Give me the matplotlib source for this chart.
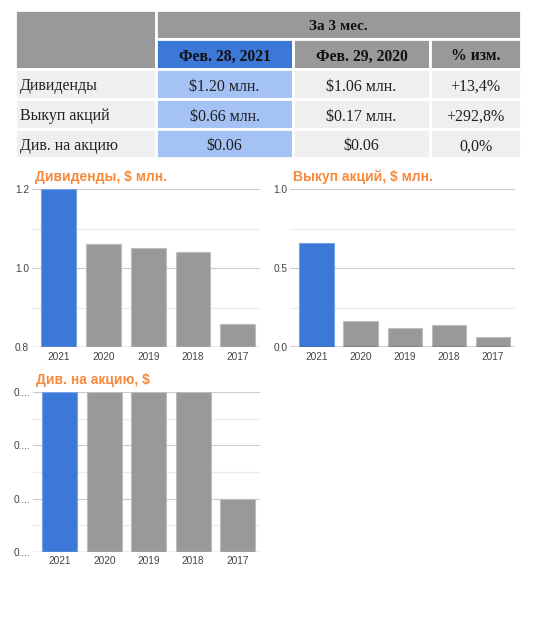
import matplotlib
matplotlib.use("Agg")
import matplotlib.pyplot as plt
from matplotlib.patches import Rectangle

# --- data ---
years = ['2021', '2020', '2019', '2018', '2017']
dividends = [1.20, 1.06, 1.05, 1.04, 0.86]
buybacks = [0.66, 0.17, 0.12, 0.14, 0.065]
div_per_share = [0.06, 0.06, 0.06, 0.06, 0.05]

period_title = 'За 3 мес.'
col_heads = ['Фев. 28, 2021', 'Фев. 29, 2020', '% изм.']
row_names = ['Дивиденды', 'Выкуп акций', 'Див. на акцию']
cur_vals = ['$1.20 млн.', '$0.66 млн.', '$0.06']
prev_vals = ['$1.06 млн.', '$0.17 млн.', '$0.06']
changes = ['+13,4%', '+292,8%', '0,0%']

BLUE = '#3c78d8'
GRAY = '#999999'
LBLUE = '#a4c2f4'
LGRAY = '#efefef'
ORANGE = '#f6893b'
W, H = 535, 620

fig = plt.figure(figsize=(W / 100, H / 100), dpi=100)
fig.patch.set_facecolor('white')

# table drawn in pixel coordinates
tab = fig.add_axes([0, 0, 1, 1])
tab.set_xlim(0, W)
tab.set_ylim(H, 0)
tab.axis('off')

cols = [(15, 156), (156, 293), (293, 430), (430, 521)]
hrows = [(10, 38.5), (38.5, 68.5)]
rows = [(68.5, 98.5), (98.5, 128.5), (128.5, 158)]


def cell(x0, x1, y0, y1, color):
    tab.add_patch(Rectangle((x0, y0), x1 - x0, y1 - y0, facecolor=color,
                            edgecolor='white', linewidth=2))


serif = 'Liberation Serif'
cell(cols[0][0], cols[0][1], hrows[0][0], hrows[1][1], GRAY)
cell(cols[1][0], cols[3][1], hrows[0][0], hrows[0][1], GRAY)
tab.text((cols[1][0] + cols[3][1]) / 2, sum(hrows[0]) / 2 + 1, period_title,
         ha='center', va='center_baseline', family=serif, fontsize=11,
         fontweight='bold', color='#111111')
for i, head in enumerate(col_heads):
    c = cols[i + 1]
    cell(c[0], c[1], hrows[1][0], hrows[1][1], BLUE if i == 0 else GRAY)
    tab.text(sum(c) / 2, sum(hrows[1]) / 2 + 1, head, ha='center',
             va='center_baseline', family=serif, fontsize=11.3,
             fontweight='bold', color='#111111')

for r, (y0, y1) in enumerate(rows):
    cell(cols[0][0], cols[0][1], y0, y1, LGRAY)
    tab.text(cols[0][0] + 5, (y0 + y1) / 2 + 1, row_names[r], ha='left',
             va='center_baseline', family=serif, fontsize=11.5,
             color='#222222')
    vals = [cur_vals[r], prev_vals[r], changes[r]]
    for i, v in enumerate(vals):
        c = cols[i + 1]
        cell(c[0], c[1], y0, y1, LBLUE if i == 0 else LGRAY)
        tab.text(sum(c) / 2, (y0 + y1) / 2 + 1, v, ha='center',
                 va='center_baseline', family=serif, fontsize=11.5,
                 color='#222222')


def bar_chart(box, values, title, ylim, major, minor, ticklabels,
              base_color):
    l, t, r, b = box
    ax = fig.add_axes([l / W, 1 - b / H, (r - l) / W, (b - t) / H])
    x = range(len(values))
    colors = [BLUE] + [GRAY] * (len(values) - 1)
    edges = ['#78a2e6'] + ['#bdbdbd'] * (len(values) - 1)
    ax.bar(x, values, width=0.78, color=colors, edgecolor=edges,
           linewidth=0.8, zorder=3)
    ax.set_xlim(-0.6, len(values) - 0.5)
    ax.set_ylim(*ylim)
    for v in minor:
        ax.axhline(v, color='#ebebeb', linewidth=0.8, zorder=1)
    for v in major:
        ax.axhline(v, color='#cccccc', linewidth=0.8, zorder=1)
    ax.axhline(ylim[0], color=base_color, linewidth=1.0, zorder=4)
    ax.set_yticks(major)
    ax.set_yticklabels(ticklabels)
    ax.set_xticks(list(x))
    ax.set_xticklabels(years)
    for s in ax.spines.values():
        s.set_visible(False)
    ax.tick_params(length=0, labelsize=7.3, colors='#444444', pad=2)
    ax.tick_params(axis='x', pad=3)
    for lab in ax.get_xticklabels() + ax.get_yticklabels():
        lab.set_family('Liberation Sans')
    fig.text((l + 3) / W, 1 - (t - 12) / H, title, ha='left', va='center',
             color=ORANGE, fontsize=10, fontweight='bold',
             family='Liberation Sans')
    return ax


bar_chart((32, 189, 260, 347.5), dividends, 'Дивиденды, $ млн.',
          (0.8, 1.2), [0.8, 1.0, 1.2], [0.9, 1.1],
          ['0.8', '1.0', '1.2'], '#bbbbbb')
bar_chart((290, 189, 515, 347.5), buybacks, 'Выкуп акций, $ млн.',
          (0.0, 1.0), [0.0, 0.5, 1.0], [0.25, 0.75],
          ['0.0', '0.5', '1.0'], '#333333')
bar_chart((33, 392, 260, 552), div_per_share, 'Див. на акцию, $',
          (0.045, 0.06), [0.045, 0.05, 0.055, 0.06],
          [0.0475, 0.0525, 0.0575],
          ['0....', '0....', '0....', '0....'], '#bbbbbb')

fig.savefig('out.png', dpi=100, facecolor='white')
